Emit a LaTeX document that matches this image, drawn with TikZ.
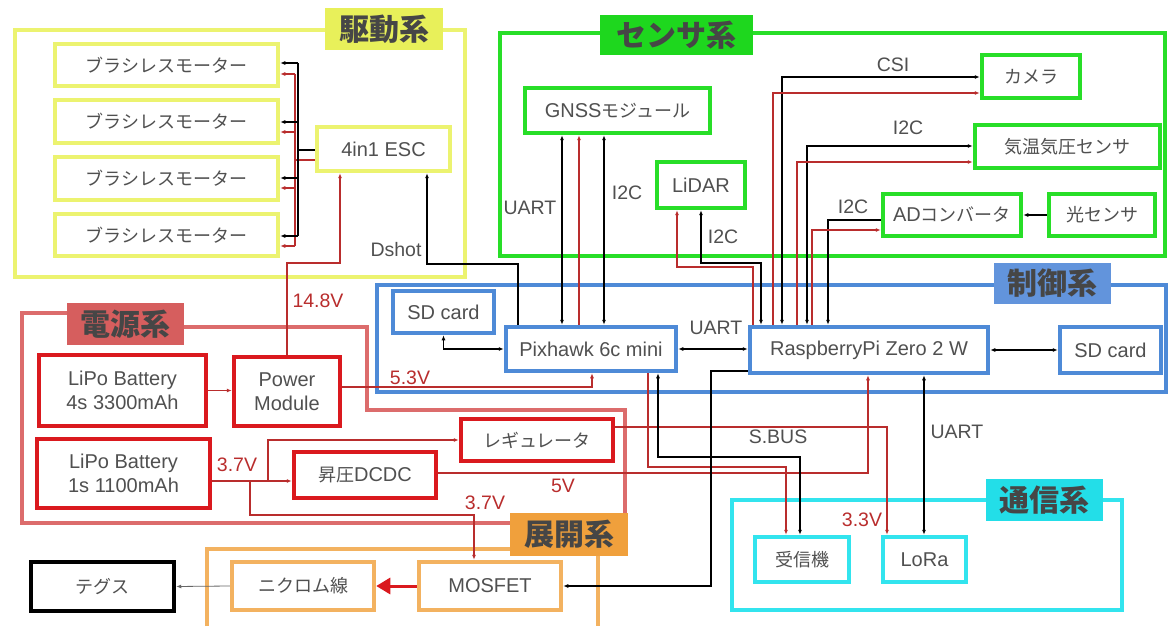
\documentclass[tikz,border=0pt]{standalone}
\usepackage{fontspec}
\setmainfont{Liberation Sans}
\newfontfamily\jp{Noto Sans CJK JP}
\usetikzlibrary{arrows.meta}
\definecolor{ylw}{RGB}{236,243,112}
\definecolor{ylwf}{RGB}{232,240,90}
\definecolor{grn}{RGB}{40,222,40}
\definecolor{grnf}{RGB}{30,215,30}
\definecolor{blu}{RGB}{78,138,215}
\definecolor{bluf}{RGB}{98,148,220}
\definecolor{pnk}{RGB}{220,108,108}
\definecolor{pnkf}{RGB}{214,94,94}
\definecolor{rbx}{RGB}{218,25,30}
\definecolor{org}{RGB}{243,178,96}
\definecolor{orgf}{RGB}{240,160,60}
\definecolor{cyn}{RGB}{50,228,238}
\definecolor{cynf}{RGB}{35,222,232}
\definecolor{wred}{RGB}{185,45,45}
\definecolor{txt}{RGB}{80,80,80}
\definecolor{gtx}{RGB}{70,70,70}
\newcommand\mylat{\fontsize{20}{24}\selectfont}
\newcommand\mywl{\fontsize{19.5}{24}\selectfont}
\newcommand\myjp{\fontsize{18}{24}\selectfont\jp}
\newcommand\mygrp{\fontsize{30}{30}\selectfont\jp\bfseries}
\tikzset{
  >={Latex[length=5pt,width=4pt]},
  frm/.style={line width=4.5pt},
  bx/.style={draw, line width=4.5pt, fill=white, text=txt, inner sep=0pt, font=\mylat, align=center},
  ybox/.style={bx, draw=ylw},
  gbox/.style={bx, draw=grn},
  bbox/.style={bx, draw=blu},
  rbox/.style={bx, draw=rbx},
  obox/.style={bx, draw=org},
  cbox/.style={bx, draw=cyn},
  kbox/.style={bx, draw=black},
  grp/.style={inner sep=0pt, text=gtx, font=\mygrp},
  wl/.style={inner sep=0pt, text=txt, font=\mywl},
  vl/.style={inner sep=0pt, text=wred, font=\mywl},
  bw/.style={draw=black, line width=1.1pt},
  rw/.style={draw=wred, line width=1.1pt},
}
\begin{document}
\begin{tikzpicture}[x=1pt,y=-1pt]
\useasboundingbox (0,0) rectangle (1169,628);
\fill[white] (0,0) rectangle (1169,628);

% ---------- group frames ----------
\draw[frm, draw=ylw] (15,30) rectangle (465,277);
\draw[frm, draw=grn] (500,33) rectangle (1165,256);
\draw[frm, draw=blu] (377,285) rectangle (1166,392);
\draw[frm, draw=pnk] (184,327) -- (367,327) -- (367,410) -- (625,410) -- (625,523) -- (22,523) -- (22,313) -- (70,313);
\draw[frm, draw=org] (207,626) -- (207,549) -- (598,549) -- (598,626);
\draw[frm, draw=cyn] (732,500) rectangle (1122,610);

% ---------- group labels ----------
\node[grp, fill=ylwf, minimum width=118pt, minimum height=42pt] (gdrive) at (384,29) {駆動系};
\node[grp, fill=grnf, minimum width=153pt, minimum height=40pt] (gsens) at (676.5,35) {センサ系};
\node[grp, fill=bluf, minimum width=117pt, minimum height=41pt] (gctrl) at (1052.5,283.5) {制御系};
\node[grp, fill=pnkf, minimum width=117pt, minimum height=42pt] (gpow) at (125.5,324) {電源系};
\node[grp, fill=orgf, minimum width=118pt, minimum height=43pt] (gdep) at (569,534.5) {展開系};
\node[grp, fill=cynf, minimum width=117pt, minimum height=42pt] (gcom) at (1044.5,500) {通信系};

% ---------- boxes ----------
\node[ybox, minimum width=223pt, minimum height=42pt] (m1) at (166.5,65) {\myjp ブラシレスモーター};
\node[ybox, minimum width=223pt, minimum height=43pt] (m2) at (166.5,121.5) {\myjp ブラシレスモーター};
\node[ybox, minimum width=223pt, minimum height=43pt] (m3) at (166.5,178.5) {\myjp ブラシレスモーター};
\node[ybox, minimum width=223pt, minimum height=42pt] (m4) at (166.5,235) {\myjp ブラシレスモーター};
\node[ybox, minimum width=133pt, minimum height=44pt] (esc) at (383.5,149) {4in1 ESC};

\node[gbox, minimum width=185pt, minimum height=45pt] (gnss) at (617.5,110.5) {GNSS{\myjp モジュール}};
\node[gbox, minimum width=88pt, minimum height=46pt] (lidar) at (701,185) {LiDAR};
\node[gbox, minimum width=98pt, minimum height=43pt] (cam) at (1031,76.5) {\myjp カメラ};
\node[gbox, minimum width=185pt, minimum height=43pt] (temp) at (1067.5,146.5) {\myjp 気温気圧センサ};
\node[gbox, minimum width=138pt, minimum height=42pt] (adc) at (952,215) {AD{\myjp コンバータ}};
\node[gbox, minimum width=106pt, minimum height=42pt] (light) at (1102,215) {\myjp 光センサ};

\node[bbox, minimum width=101pt, minimum height=42pt] (sdl) at (443.5,312) {SD card};
\node[bbox, minimum width=170pt, minimum height=44pt] (px) at (591,349) {Pixhawk 6c mini};
\node[bbox, minimum width=238pt, minimum height=46pt] (rpi) at (869,350) {RaspberryPi Zero 2 W};
\node[bbox, minimum width=101pt, minimum height=46pt] (sdr) at (1110.5,350) {SD card};

\node[rbox, minimum width=167pt, minimum height=71pt] (lipo4) at (122.5,390.5) {LiPo Battery\\4s 3300mAh};
\node[rbox, minimum width=106pt, minimum height=69pt] (pm) at (287,391.5) {Power\\Module};
\node[rbox, minimum width=173pt, minimum height=69pt] (lipo1) at (123.5,473.5) {LiPo Battery\\1s 1100mAh};
\node[rbox, minimum width=152pt, minimum height=42pt] (reg) at (537,440) {\myjp レギュレータ};
\node[rbox, minimum width=142pt, minimum height=46pt] (dcdc) at (365,475) {{\myjp 昇圧}DCDC};

\node[kbox, minimum width=143pt, minimum height=49pt] (teg) at (102.5,586.5) {\myjp テグス};
\node[obox, minimum width=142pt, minimum height=48pt] (nich) at (303,586) {\myjp ニクロム線};
\node[obox, minimum width=142pt, minimum height=48pt] (mos) at (490,586) {MOSFET};

\node[cbox, minimum width=94pt, minimum height=45pt] (rx) at (802,559.5) {\myjp 受信機};
\node[cbox, minimum width=83pt, minimum height=45pt] (lora) at (924.5,559.5) {LoRa};

% ---------- drive wiring ----------
\draw[bw] ([yshift=-1pt]esc.west) -- (298,150);
\draw[rw] ([yshift=-11pt]esc.west) -- (295,160);
\draw[bw] (298,63) -- (298,236);
\draw[rw] (295,74) -- (295,246);
\foreach \n/\yb/\yr in {m1/63/74, m2/122/132, m3/178/188, m4/236/246} {
  \draw[bw,->] (298,\yb) -- (\n.east |- 0,\yb);
  \draw[rw,->] (295,\yr) -- (\n.east |- 0,\yr);
}
\draw[rw,->] (pm.north) -- (287,263) -| (esc.south -| 340,0);
\draw[bw,->] (px.north -| 518,0) |- (427,264) -- (esc.south -| 427,0);
\node[wl] (ldshot) at (396,250) {Dshot};
\node[vl] (l148) at (318,301) {14.8V};

% ---------- sensor wiring ----------
\draw[bw,<->] (gnss.south -| 562,0) -- (px.north -| 562,0);
\draw[rw,->] (px.north -| 579,0) -- (gnss.south -| 579,0);
\draw[bw,<->] (gnss.south -| 604,0) -- (px.north -| 604,0);
\node[wl] (luart1) at (530,208) {UART};
\node[wl] (li2c1) at (627,193) {I2C};

\draw[rw,->] (rpi.north -| 753,0) |- (677,267) -- (lidar.south -| 677,0);
\draw[bw,<->] (lidar.south -| 701,0) |- (761,263) -- (rpi.north -| 761,0);
\node[wl] (li2c2) at (723,237) {I2C};

\draw[bw,<->] (rpi.north -| 782,0) |- (cam.west |- 0,77);
\draw[rw,->] (rpi.north -| 773,0) |- (cam.west |- 0,93);
\node[wl] (lcsi) at (893,65) {CSI};

\draw[bw,<->] (rpi.north -| 807,0) |- (temp.west |- 0,146);
\draw[rw,->] (rpi.north -| 797,0) |- (temp.west |- 0,162);
\node[wl] (li2c3) at (908,128) {I2C};

\draw[bw,->] (adc.west |- 0,220) -| (rpi.north -| 828,0);
\draw[rw,->] (rpi.north -| 812,0) |- (adc.west |- 0,230);
\node[wl] (li2c4) at (853,207) {I2C};

\draw[bw,->] (light.west) -- (adc.east |- light.west);

% ---------- control wiring ----------
\draw[bw,<->] (sdl.south) |- (px.west);
\draw[bw,<->] (px.east) -- (rpi.west |- px.east);
\node[wl] (luart2) at (716,328) {UART};
\draw[bw,<->] (rpi.east) -- (sdr.west);

% ---------- power wiring ----------
\draw[rw,->] (lipo4.east) -- (pm.west |- lipo4.east);
\draw[rw,->] (pm.east |- 0,387) -| (px.south -| 592,0);
\node[vl] (l53) at (410,378) {5.3V};
\draw[rw,->] (lipo1.east |- 0,481) -- (dcdc.west |- 0,481);
\draw[rw,->] (268,481) |- (reg.west);
\draw[rw,->] (250,481) |- (474,515) -- (mos.north -| 474,0);
\node[vl] (l37a) at (237,465) {3.7V};
\node[vl] (l37b) at (485,503) {3.7V};
\draw[rw,->] (reg.east |- 0,427) -| (lora.north -| 887,0);
\node[vl] (l33) at (862,520) {3.3V};
\draw[rw,->] (dcdc.east |- 0,473) -| (rpi.south -| 868,0);
\node[vl] (l5) at (563,486) {5V};

% ---------- comm wiring ----------
\draw[rw,->] (px.south -| 648,0) |- (786,467) -- (rx.north -| 786,0);
\draw[bw,<->] (px.south -| 658,0) |- (800,457) -- (rx.north -| 800,0);
\node[wl] (lsbus) at (778,437) {S.BUS};
\draw[bw,<->] (rpi.south -| 924,0) -- (lora.north -| 924,0);
\node[wl] (luart3) at (957,432) {UART};

% ---------- deploy wiring ----------
\draw[bw,->] (rpi.west |- 0,371) -| (mos.east -| 711,0) -- (mos.east);
\draw[draw=rbx, line width=3pt, -{Triangle[length=14pt,width=16pt]}] (mos.west) -- (nich.east);
\draw[draw=black!60, line width=0.8pt, ->] (nich.west) -- (teg.east);
\end{tikzpicture}
\end{document}
